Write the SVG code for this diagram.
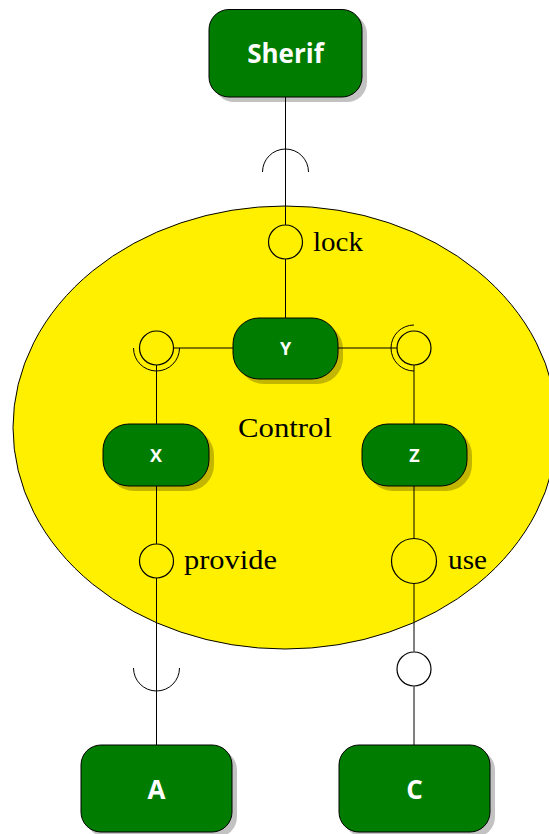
<svg xmlns="http://www.w3.org/2000/svg" width="549" height="834" viewBox="0 0 549 834">
<style>
.box{fill:#007d00;stroke:#000;stroke-width:1}
.sh{fill:#000;opacity:0.24}
.lbl{fill:#fff;font-family:"Open Sans","Noto Sans",sans-serif;font-weight:bold;text-anchor:middle}
.big{font-size:26px}
.small{font-size:18px}
.ser{font-family:"Liberation Serif","DejaVu Serif",serif;font-size:28px;fill:#000}
.ln{fill:none;stroke:#000;stroke-width:1}
.ball{fill:none;stroke:#000;stroke-width:1.2}
</style>
<rect width="549" height="834" fill="#fff"/>
<g id="control">
<ellipse cx="285" cy="427.5" rx="272" ry="221.5" fill="#fff000" stroke="#000" stroke-width="1"/>
<text class="ser" x="285" y="437" text-anchor="middle" textLength="94" lengthAdjust="spacingAndGlyphs">Control</text>
</g>
<g id="connectors">
<line class="ln" x1="285.5" y1="97" x2="285.5" y2="225"/>
<path class="ln" d="M262.5,172 A23,23 0 0 1 308.5,172"/>
<circle class="ball" cx="285.5" cy="242" r="17"/>
<line class="ln" x1="285.5" y1="259" x2="285.5" y2="318"/>
<line class="ln" x1="174" y1="348" x2="233" y2="348"/>
<line class="ln" x1="338" y1="348" x2="397" y2="348"/>
<circle class="ball" cx="156.5" cy="348" r="17"/>
<path class="ln" d="M133.5,348 A23,23 0 0 0 179.5,348"/>
<circle class="ball" cx="414" cy="348" r="17"/>
<path class="ln" d="M414,325 A23,23 0 0 0 414,371"/>
<line class="ln" x1="156.5" y1="365" x2="156.5" y2="424"/>
<line class="ln" x1="414" y1="365" x2="414" y2="424"/>
<line class="ln" x1="156.5" y1="486" x2="156.5" y2="544"/>
<circle class="ball" cx="156.5" cy="561" r="17"/>
<line class="ln" x1="156.5" y1="578" x2="156.5" y2="745"/>
<path class="ln" d="M133.5,668 A23,23 0 0 0 179.5,668"/>
<line class="ln" x1="414" y1="486" x2="414" y2="538.5"/>
<circle class="ball" cx="414" cy="561" r="22.5"/>
<line class="ln" x1="414" y1="583.5" x2="414" y2="651.5"/>
<circle class="ball" cx="414" cy="669" r="17"/>
<line class="ln" x1="414" y1="686.5" x2="414" y2="745"/>
<text class="ser" x="313" y="251" textLength="50" lengthAdjust="spacingAndGlyphs">lock</text>
<text class="ser" x="184" y="569" textLength="93" lengthAdjust="spacingAndGlyphs">provide</text>
<text class="ser" x="448" y="569" textLength="39" lengthAdjust="spacingAndGlyphs">use</text>
</g>
<g id="sherif">
<rect class="sh" x="214" y="14" width="153" height="88" rx="20"/>
<rect class="box" x="209" y="9.5" width="153" height="87.5" rx="20"/>
<text class="lbl big" x="285.5" y="63">Sherif</text>
</g>
<g id="Y">
<rect class="sh" x="238" y="323" width="105" height="61" rx="26"/>
<rect class="box" x="233" y="318" width="105" height="61" rx="26"/>
<text class="lbl small" x="285.5" y="355">Y</text>
</g>
<g id="X">
<rect class="sh" x="108" y="429" width="106" height="62" rx="26"/>
<rect class="box" x="103" y="424" width="106" height="62" rx="26"/>
<text class="lbl small" x="156" y="462">X</text>
</g>
<g id="Z">
<rect class="sh" x="367" y="429" width="105" height="62" rx="26"/>
<rect class="box" x="362" y="424" width="105" height="62" rx="26"/>
<text class="lbl small" x="414.5" y="462">Z</text>
</g>
<g id="A">
<rect class="sh" x="86" y="750" width="151" height="87" rx="20"/>
<rect class="box" x="81" y="745" width="151" height="87" rx="20"/>
<text class="lbl big" x="156.5" y="799">A</text>
</g>
<g id="C">
<rect class="sh" x="344" y="750" width="151" height="87" rx="20"/>
<rect class="box" x="339" y="745" width="151" height="87" rx="20"/>
<text class="lbl big" x="414.5" y="799">C</text>
</g>
</svg>
